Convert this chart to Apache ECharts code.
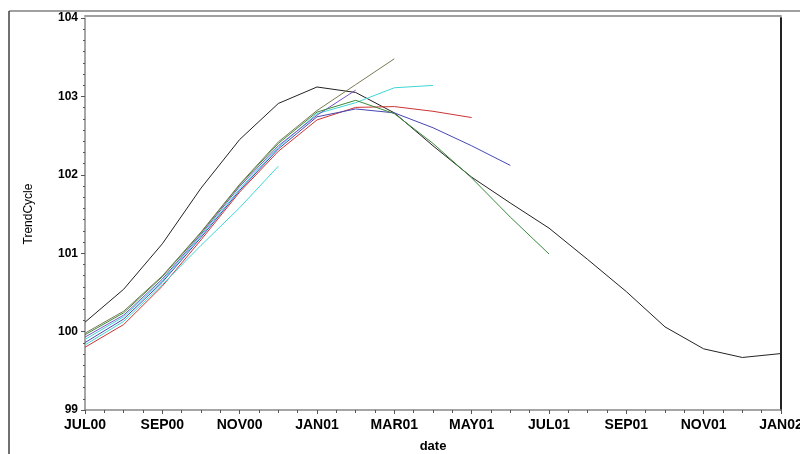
<!DOCTYPE html>
<html><head><meta charset="utf-8">
<script src="https://cdn.jsdelivr.net/npm/echarts@6/dist/echarts.min.js"></script>
<style>html,body{margin:0;padding:0;background:#fff;overflow:hidden}#c{width:800px;height:454px}</style>
</head><body><div id="c"></div>
<script>
const months = ['JUL00','AUG00','SEP00','OCT00','NOV00','DEC00','JAN01','FEB01','MAR01','APR01','MAY01','JUN01','JUL01','AUG01','SEP01','OCT01','NOV01','DEC01','JAN02'];
const yTicks = [99,100,101,102,103,104];
const trendBlack  = [100.12,100.54,101.12,101.83,102.45,102.91,103.12,103.05,102.79,102.37,101.97,101.64,101.32,100.92,100.51,100.06,99.78,99.67,99.72];
const trendRed    = [99.80,100.09,100.58,101.17,101.78,102.30,102.70,102.86,102.87,102.81,102.73];
const trendBlue   = [99.86,100.16,100.63,101.20,101.80,102.33,102.74,102.84,102.79,102.60,102.37,102.12];
const trendCyan   = [99.90,100.19,100.65,101.22,101.82,102.35,102.78,102.92,103.11,103.14];
const trendCyan2  = [99.83,100.13,100.60,101.10,101.58,102.11];
const trendPurple = [99.93,100.21,100.67,101.24,101.85,102.37,102.76,103.08];
const trendGreen  = [99.96,100.24,100.70,101.26,101.87,102.40,102.80,102.95,102.78,102.40,101.96,101.46,100.99];
const trendOlive  = [99.98,100.26,100.71,101.27,101.88,102.42,102.82,103.15,103.48];

const seriesDefs = [
  ['black', trendBlack, '#222222'],
  ['red', trendRed, '#cc3333'],
  ['blue', trendBlue, '#4646b4'],
  ['cyan', trendCyan, '#3fd6d6'],
  ['cyan2', trendCyan2, '#3fd6d6'],
  ['purple', trendPurple, '#7a52c8'],
  ['green', trendGreen, '#3a8a3a'],
  ['olive', trendOlive, '#7a7a55']
];
const font = 'Liberation Sans, Arial, sans-serif';
const chart = echarts.init(document.getElementById('c'), null, {renderer:'canvas'});
chart.setOption({
  animation:false,
  graphic:[
    {type:'line', shape:{x1:9,y1:11,x2:800,y2:11}, style:{stroke:'#808080', lineWidth:1.5}},
    {type:'line', shape:{x1:9,y1:11,x2:9,y2:454}, style:{stroke:'#404040', lineWidth:1.5}}
  ],
  grid:{left:85, right:19, top:18, bottom:44, show:false, containLabel:false, outerBoundsMode:'none'},
  xAxis:[{
    type:'value', min:0, max:18, interval:2,
    name:'date', nameLocation:'middle', nameGap:30,
    nameTextStyle:{fontFamily:font, fontSize:13, fontWeight:'bold', color:'#000'},
    axisLine:{onZero:false, lineStyle:{color:'#888', width:1.5}},
    axisTick:{length:4, lineStyle:{color:'#555'}},
    minorTick:{show:true, splitNumber:4, length:3, lineStyle:{color:'#555'}},
    splitLine:{show:false},
    axisLabel:{fontFamily:font, fontSize:14, fontWeight:'bold', color:'#000', margin:8,
      formatter:function(v){return months[Math.round(v)]||'';}}
  },{
    type:'value', min:0, max:18, position:'top', offset:2,
    axisLine:{show:true, onZero:false, lineStyle:{color:'#a0a0a0', width:2}},
    axisTick:{show:false}, axisLabel:{show:false}, splitLine:{show:false}
  }],
  yAxis:[{
    type:'value', min:99, max:104, interval:1,
    name:'TrendCycle', nameLocation:'middle', nameGap:50, nameRotate:90,
    nameTextStyle:{fontFamily:font, fontSize:12, color:'#000'},
    axisLine:{show:true, onZero:false, lineStyle:{color:'#888', width:1.5}},
    axisTick:{show:true, length:4, lineStyle:{color:'#555'}},
    minorTick:{show:true, splitNumber:7, length:2, lineStyle:{color:'#555'}},
    splitLine:{show:false},
    axisLabel:{fontFamily:font, fontSize:12, fontWeight:'bold', color:'#000', margin:7,
      formatter:function(v){return yTicks.indexOf(v)>=0 ? String(v) : '';}}
  },{
    type:'value', min:99, max:104, position:'right',
    axisLine:{show:true, onZero:false, lineStyle:{color:'#222', width:2}},
    axisTick:{show:false}, axisLabel:{show:false}, splitLine:{show:false}
  }],
  series: seriesDefs.map(function(d){
    return {name:d[0], type:'line', xAxisIndex:0, yAxisIndex:0,
      data:d[1].map(function(v,i){return [i,v];}),
      symbol:'none', lineStyle:{color:d[2], width:1}, itemStyle:{color:d[2]}};
  })
});
</script></body></html>
